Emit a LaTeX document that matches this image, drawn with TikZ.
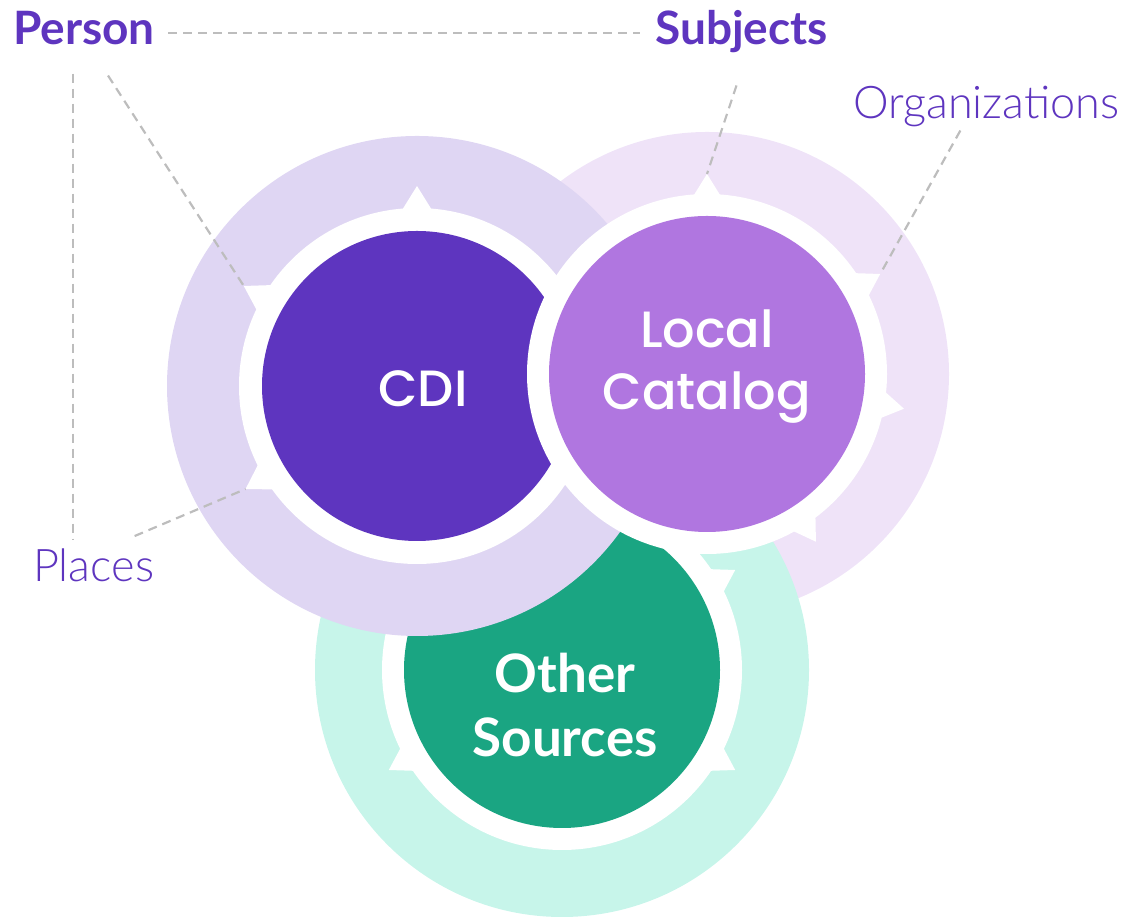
\documentclass[tikz,border=0pt]{standalone}
\usepackage{fontspec}
\setmainfont{Lato}
\newfontfamily\labelfont{Lato}
\newfontfamily\thinfont{Lato Light}
\newfontfamily\roundfont{Poppins Medium}
\usetikzlibrary{calc}
\usetikzlibrary{positioning}
\definecolor{cdidark}{HTML}{5E35BF}
\definecolor{cdiring}{HTML}{DFD6F3}
\definecolor{locdark}{HTML}{B076E0}
\definecolor{locring}{HTML}{EFE3F8}
\definecolor{othdark}{HTML}{1AA582}
\definecolor{othring}{HTML}{C7F5EA}
\definecolor{guidegray}{HTML}{BDBDBD}
\tikzstyle{guide} = [draw=guidegray, line width=2.2pt, dash pattern=on 9pt off 6pt]
\tikzstyle{core} = [circle, inner sep=0pt, draw=none]
\tikzstyle{inlabel} = [text=white, anchor=base, inner sep=0pt, font=\roundfont\fontsize{51}{60}\selectfont]
\tikzstyle{srclabel} = [text=white, anchor=base, inner sep=0pt, font=\labelfont\bfseries\fontsize{53}{60}\selectfont]
\tikzstyle{headlabel} = [text=cdidark, anchor=base west, inner sep=0pt, font=\labelfont\bfseries\fontsize{46}{50}\selectfont]
\tikzstyle{sidelabel} = [text=cdidark, anchor=base west, inner sep=0pt, font=\thinfont\fontsize{45}{50}\selectfont]
% white notch on a ring: centre, angle, name of its tip
\newcommand{\spike}[3]{%
  \fill[white] ($(#1)+(#2-5:176)$) -- ($(#1)+(#2:200)$) -- ($(#1)+(#2+5:176)$) -- cycle;
  \coordinate (#3) at ($(#1)+(#2:200)$);}

\begin{document}
\begin{tikzpicture}[x=1pt, y=1pt]
	\useasboundingbox (0,0) rectangle (1135,917);
	\coordinate (cdic) at (417,531);
	\coordinate (locc) at (707,543);
	\coordinate (othc) at (562,247);

	% halo of the local catalog sits lowest
	\fill[locring] (locc) circle (242);

	% other sources
	\fill[othring] (othc) circle (247);
	\fill[white] (othc) circle (180);
	\spike{othc}{30}{oth30}
	\spike{othc}{210}{oth210}
	\spike{othc}{330}{oth330}
	\node[core, fill=othdark, minimum size=316pt] (oth) at (othc) {};

	% CDI
	\fill[cdiring] (cdic) circle (250);
	\fill[white] (cdic) circle (178);
	\spike{cdic}{90}{cdi90}
	\spike{cdic}{150}{cdi150}
	\spike{cdic}{211}{cdi211}
	\node[core, fill=cdidark, minimum size=310pt] (cdi) at (cdic) {};

	% local catalog on top
	\fill[white] (locc) circle (180);
	\spike{locc}{90}{loc90}
	\spike{locc}{30}{loc30}
	\spike{locc}{-10}{loc350}
	\spike{locc}{-57}{loc303}
	\node[core, fill=locdark, minimum size=316pt] (loc) at (locc) {};

	% names in the discs
	\node[inlabel] (cditext) at (423,510) {CDI};
	\node[inlabel] (loctop) at (707,569) {Local};
	\node[inlabel] (locbot) at (707,507) {Catalog};
	\node[srclabel] (othtop) at (565,224) {Other};
	\node[srclabel] (othbot) at (565,160) {Sources};

	% outside labels
	\node[headlabel] (person) at (13,872) {Person};
	\node[headlabel] (subjects) at (655,872) {Subjects};
	\node[sidelabel] (orgs) at (853,798) {Organizations};
	\node[sidelabel] (places) at (33,335) {Places};

	% dashed guides
	\draw[guide] ([xshift=13pt,yshift=12pt]person.base east) -- ([xshift=-15pt,yshift=12pt]subjects.base west);
	\draw[guide] ($(person.south)+(-11,-28)$) coordinate (ptail) -- ($(ptail |- places.north)+(0,10)$);
	\draw[guide] ($(person.south)+(24,-30)$) -- (cdi150);
	\draw[guide] ($(places.north)+(41,13)$) -- (cdi211);
	\draw[guide] ($(subjects.south)+(-5,-32)$) -- (loc90);
	\draw[guide] ($(orgs.south)+(-26,-3)$) -- (loc30);
\end{tikzpicture}
\end{document}
